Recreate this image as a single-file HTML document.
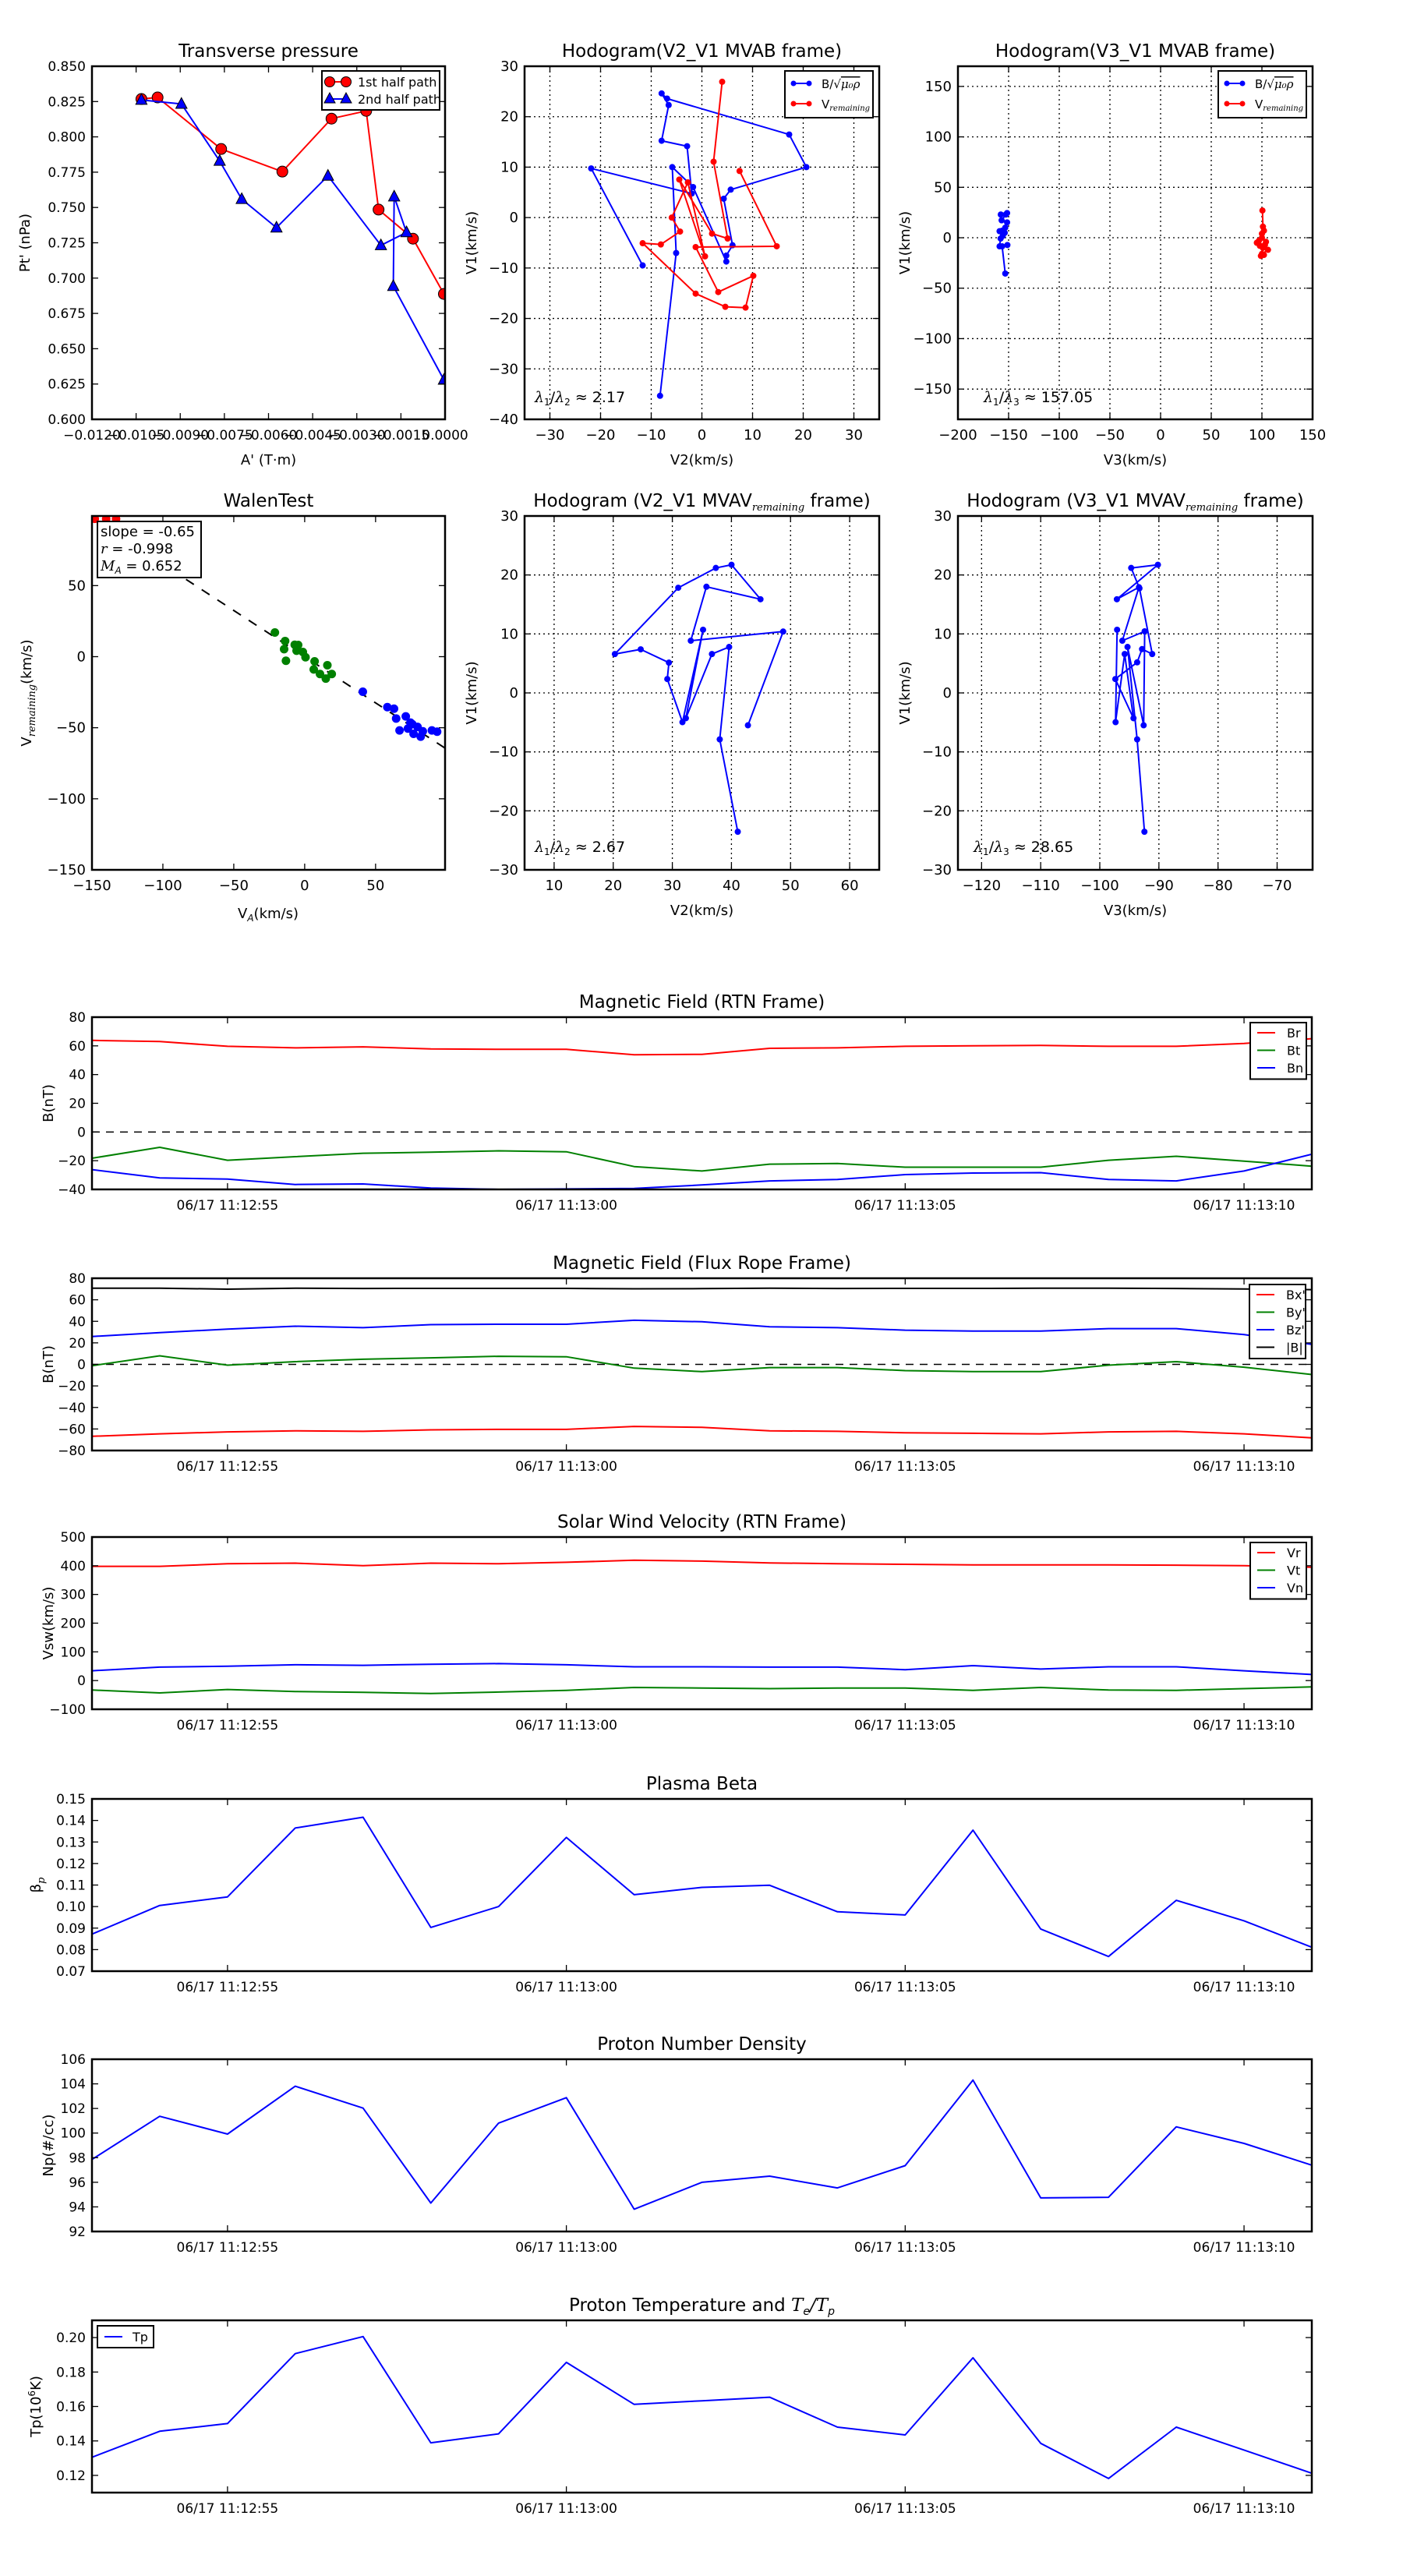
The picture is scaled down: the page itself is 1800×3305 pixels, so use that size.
<!DOCTYPE html>
<html><head><meta charset="utf-8">
<style>
html,body{margin:0;padding:0;background:#fff;}
svg text{font-family:"DejaVu Sans","Liberation Sans",sans-serif;fill:#000;}
</style></head>
<body>
<svg id="fig" xmlns="http://www.w3.org/2000/svg" width="1800" height="3300" viewBox="0 0 1800 3300">
<rect x="0" y="0" width="1800" height="3300" fill="#fff"/>
</svg>
<script>
// ---------- data ----------
const presAx1 = [-0.01032,-0.00977,-0.00761,-0.00553,-0.00386,-0.00268,-0.00226,-0.00109,-0.00004];
const presPt1 = [0.8268,0.8279,0.7914,0.7754,0.8129,0.8184,0.7485,0.7279,0.6888];
const presAx2 = [-0.01032,-0.00896,-0.00766,-0.00691,-0.00573,-0.00398,-0.00218,-0.00131,-0.00173,-0.00176,-0.00004];
const presPt2 = [0.8261,0.8233,0.7829,0.7559,0.7357,0.7724,0.7232,0.7324,0.7577,0.6943,0.6279];

const hB_V2 = [-11.69,-21.85,-2.0,-2.92,-7.95,-6.56,-7.95,-6.87,17.23,20.62,5.69,4.31,6.05,4.82,4.82,-1.74,-5.85,-5.08,-8.26];
const hB_V1 = [-9.49,9.74,4.77,14.15,15.23,22.31,24.62,23.59,16.46,10.0,5.54,3.74,-5.49,-7.54,-8.72,6.05,10.0,-7.03,-35.33];
const hV_V2 = [7.44,14.77,-1.23,3.23,10.15,8.62,4.62,-1.23,-11.69,-8.10,-4.31,-5.95,-2.77,0.62,-4.46,2.0,5.08,2.31,4.0];
const hV_V1 = [9.23,-5.69,-5.85,-14.77,-11.54,-17.85,-17.69,-15.08,-5.08,-5.33,-2.77,0,6.97,-7.69,7.54,-3.18,-4.15,11.08,26.92];

const h3B_V3 = [-157.7,-151.5,-152.8,-156.9,-151.5,-153.3,-156.4,-158.9,-153.8,-155.8,-157.9,-158.9,-151.2,-156.4,-153.3];
const h3B_V1 = [23,24.5,23,17.3,15.2,10,7,6.5,4.9,1.9,-0.8,-8.5,-7.2,-8.5,-35.5];
const h3V_V3 = [100.5,101,102,100,97,95,103,101,106,100,99,102,98,104,100];
const h3V_V1 = [27,11,7,4,-3,-5,-7,-10,-12,-16,-18,-17,-8,-4,0];

const walenGreenX = [-21,-13.8,-14.5,-13.2,-7,-4.6,-5.7,-1.3,0.6,7,6.4,10.8,16,14.9,19.1];
const walenGreenY = [17,11,5.3,-2.9,8.4,8.2,4.2,3.3,-0.4,-3.3,-9,-12.2,-6,-15.4,-12.2];
const walenBlueX = [41,58.3,63,64.5,71.3,66.9,72.8,75.9,79.6,76.8,81.8,83.3,89.7,93.4,74.6];
const walenBlueY = [-24.7,-35.5,-36.6,-43.5,-42,-51.9,-50.6,-47.5,-49.4,-54.3,-56.3,-52.5,-51.9,-52.8,-46.4];
const walenRedX = [-148,-140,-133];
const walenRedY = [97,97,97];
const walenSlope = -0.65;

const h4_V2 = [42.79,48.75,33.12,35.77,44.91,40.01,37.36,31.0,20.28,24.65,29.42,29.15,31.71,35.2,32.29,36.7,39.61,38.02,41.07];
const h4_V1 = [-5.49,10.4,8.85,18.0,15.88,21.73,21.19,17.83,6.59,7.39,5.13,2.35,-4.96,10.71,-4.29,6.59,7.79,-7.88,-23.54];
const h5_V3 = [-97.07,-97.33,-95.79,-94.30,-97.37,-93.68,-92.85,-91.13,-93.29,-94.69,-90.17,-97.11,-93.37,-96.19,-92.41,-92.58,-95.31,-93.68,-92.45];
const h5_V1 = [10.71,-4.96,6.59,-4.29,2.35,5.18,7.43,6.59,17.74,21.19,21.73,15.88,17.92,8.85,10.44,-5.49,7.79,-7.88,-23.54];

const timeTickIdx = [2,7,12,17];
const timeTickLabels = ['06/17 11:12:55','06/17 11:13:00','06/17 11:13:05','06/17 11:13:10'];

const Br = [63.8,63,59.7,58.6,59.3,57.9,57.6,57.6,53.8,54.1,58.3,58.6,59.7,60,60.3,59.7,59.7,61.7,65];
const Bt = [-18.3,-10.7,-19.7,-17.2,-14.8,-14.1,-13.1,-13.8,-24.1,-27.2,-22.4,-22,-24.5,-24.5,-24.5,-19.7,-16.9,-20.3,-23.8];
const Bn = [-26.2,-32,-32.8,-36.6,-36.2,-39,-40,-39.7,-39.3,-36.9,-34.1,-33.1,-29.7,-28.6,-28.3,-33.1,-34.1,-27.2,-15.5];

const Bx_ = [-66.8,-64.5,-62.7,-61.7,-62.2,-60.8,-60.4,-60.4,-57.6,-58.5,-61.7,-62.2,-63.6,-64,-64.5,-62.7,-62.2,-64.5,-68.2];
const By_ = [-1.2,8,-0.7,2.5,4.8,6.1,7.5,7.1,-3.5,-6.7,-3,-3,-5.8,-6.7,-6.7,-0.7,2.5,-2.6,-9.4];
const Bz_ = [25.9,29.5,32.8,35.5,34.1,36.9,37.3,37.3,41,39.6,35,34.1,31.8,30.9,30.9,33.2,33.2,27.7,18.5];
const Bmag = [70.8,70.8,69.9,70.8,70.5,70.6,70.6,70.6,70.2,70.4,70.7,70.5,70.6,70.6,70.7,70.7,70.5,70.1,69.4];

const Vr = [398,398,407,409,400,409,407,412,419,416,410,407,405,403,403,403,402,400,395];
const Vt = [-33,-43,-31,-38,-41,-45,-40,-34,-24,-26,-28,-26,-26,-34,-24,-33,-34,-28,-22];
const Vn = [34,47,50,55,53,57,59,55,48,48,47,47,38,52,40,48,48,34,21];

const beta = [0.0872,0.1005,0.1045,0.1365,0.1415,0.0903,0.1,0.1321,0.1055,0.1089,0.1099,0.0976,0.0961,0.1355,0.0896,0.0768,0.1029,0.0934,0.0811];
const Np = [97.86,101.36,99.92,103.81,102.03,94.31,100.81,102.88,93.81,96.0,96.5,95.54,97.35,104.31,94.73,94.78,100.51,99.16,97.39];
const Tp = [0.1305,0.1456,0.1501,0.1907,0.2006,0.1389,0.1441,0.1856,0.1612,0.1633,0.1654,0.148,0.1435,0.1883,0.1386,0.1182,0.148,0.1347,0.1212];

// ---------- helpers ----------
const NS='http://www.w3.org/2000/svg';
const svg=document.getElementById('fig');
let clipN=0;
function E(tag,attrs,parent){const e=document.createElementNS(NS,tag);for(const k in attrs)e.setAttribute(k,attrs[k]);(parent||svg).appendChild(e);return e;}
function T(txt,attrs,parent){const e=E('text',attrs,parent);e.textContent=txt;return e;}
function fmt(v,d){const s=Math.abs(v).toFixed(d);return (v<0?'\u2212':'')+s;}
function range(a,b,s){const r=[];for(let v=a;v<=b+1e-9;v+=s)r.push(Math.round(v*1e6)/1e6);return r;}

function makeAxes(name,o){
  const g=E('g',{});
  
  
  const sx=v=>o.x+(v-o.xl[0])/(o.xl[1]-o.xl[0])*o.w;
  const sy=v=>o.y+o.h-(v-o.yl[0])/(o.yl[1]-o.yl[0])*o.h;
  const id='c'+(clipN++);
  const cp=E('clipPath',{id:id},g);E('rect',{x:o.x,y:o.y,width:o.w,height:o.h},cp);
  const grid=E('g',{},g);
  const data=E('g',{'clip-path':'url(#'+id+')'},g);
  const frame=E('g',{},g);
  // ticks
  const tl=8;
  o.xt.forEach((v,i)=>{
    const X=sx(v); if(X<o.x-0.5||X>o.x+o.w+0.5) return;
    if(o.grid) E('line',{x1:X,y1:o.y,x2:X,y2:o.y+o.h,stroke:'#000','stroke-width':1.3,'stroke-dasharray':'2,4'},grid);
    E('line',{x1:X,y1:o.y+o.h,x2:X,y2:o.y+o.h-tl,stroke:'#000','stroke-width':1.3},frame);
    E('line',{x1:X,y1:o.y,x2:X,y2:o.y+tl,stroke:'#000','stroke-width':1.3},frame);
    const lab=o.xlab?o.xlab[i]:fmt(v,o.xd||0);
    const t=T(lab,{x:X,y:o.y+o.h+26,'text-anchor':'middle','font-size':o.tfs||18},frame);
    
    
  });
  o.yt.forEach((v,i)=>{
    const Y=sy(v); if(Y<o.y-0.5||Y>o.y+o.h+0.5) return;
    if(o.grid) E('line',{x1:o.x,y1:Y,x2:o.x+o.w,y2:Y,stroke:'#000','stroke-width':1.3,'stroke-dasharray':'2,4'},grid);
    E('line',{x1:o.x,y1:Y,x2:o.x+tl,y2:Y,stroke:'#000','stroke-width':1.3},frame);
    E('line',{x1:o.x+o.w,y1:Y,x2:o.x+o.w-tl,y2:Y,stroke:'#000','stroke-width':1.3},frame);
    const lab=o.ylab?o.ylab[i]:fmt(v,o.yd||0);
    const t=T(lab,{x:o.x-8,y:Y+6,'text-anchor':'end','font-size':o.tfs||18},frame);
    
    
  });
  E('rect',{x:o.x,y:o.y,width:o.w,height:o.h,fill:'none',stroke:'#000','stroke-width':2.5},frame);
  if(o.title){const t=T('',{x:o.x+o.w/2,y:o.y-12,'text-anchor':'middle','font-size':23},frame);
    if(typeof o.title==='string') t.textContent=o.title; else o.title(t);
    
    }
  if(o.xname){const t=T(o.xname,{x:o.x+o.w/2,y:o.y+o.h+58,'text-anchor':'middle','font-size':18},frame);
    
    }
  if(o.yname){const yx=o.x-o.ynoff;const yy=o.y+o.h/2;
    const t=T('',{x:yx,y:yy,'text-anchor':'middle','font-size':18,transform:'rotate(-90 '+yx+' '+yy+')'},frame);
    if(typeof o.yname==='string') t.textContent=o.yname; else o.yname(t);
    
    }
  return {sx,sy,data,frame,o};
}
function polyline(ax,xs,ys,color,w,name){
  const pts=xs.map((v,i)=>ax.sx(v).toFixed(1)+','+ax.sy(ys[i]).toFixed(1)).join(' ');
  const p=E('polyline',{points:pts,fill:'none',stroke:color,'stroke-width':w||2,'stroke-linejoin':'round'},ax.data);
  
  
  return p;
}
function dots(ax,xs,ys,color,r,name,stroke){
  xs.forEach((v,i)=>{
    const c=E('circle',{cx:ax.sx(v),cy:ax.sy(ys[i]),r:r,fill:color,stroke:stroke||'none','stroke-width':1},ax.data);
    
    
  });
}
function tris(ax,xs,ys,color,s,name){
  xs.forEach((v,i)=>{
    const X=ax.sx(v),Y=ax.sy(ys[i]);
    const p=E('polygon',{points:`${X},${Y-s} ${X-s*0.9},${Y+s*0.7} ${X+s*0.9},${Y+s*0.7}`,fill:color,stroke:'#000','stroke-width':1},ax.data);
    
    
  });
}
function sub(t,main,subs,italic){const a=E('tspan',{},t);a.textContent=main;const b=E('tspan',{'font-size':13,dy:5,'font-style':italic?'italic':'normal','font-family':'"DejaVu Serif",serif'},t);b.textContent=subs;const c=E('tspan',{dy:-5},t);c.textContent='';return t;}

// ---------- row 1 ----------
const pAx=makeAxes('transverse-pressure-chart',{x:118,y:85,w:453,h:453,xl:[-0.012,0],yl:[0.6,0.85],
  xt:range(-0.012,0,0.0015),xd:4,yt:range(0.6,0.85,0.025),yd:3,tfs:17,title:'Transverse pressure',xname:"A' (T\u00b7m)",yname:"Pt' (nPa)",ynoff:80});
polyline(pAx,presAx1,presPt1,'#ff0000',2,'first-half-path-line');
dots(pAx,presAx1,presPt1,'#ff0000',7,'first-half-path-marker','#000');
polyline(pAx,presAx2,presPt2,'#0000ff',2,'second-half-path-line');
tris(pAx,presAx2,presPt2,'#0000ff',8,'second-half-path-marker');
(function(){const g=E('g',{},pAx.frame);
E('rect',{x:413,y:91,width:151,height:50,fill:'#fff',stroke:'#000','stroke-width':2},g);
E('line',{x1:423,y1:105,x2:444,y2:105,stroke:'#f00','stroke-width':2},g);
E('circle',{cx:423,cy:105,r:6.5,fill:'#f00',stroke:'#000'},g);E('circle',{cx:444,cy:105,r:6.5,fill:'#f00',stroke:'#000'},g);
T('1st half path',{x:459,y:111,'font-size':16},g);
E('line',{x1:423,y1:127,x2:444,y2:127,stroke:'#00f','stroke-width':2},g);
[423,444].forEach(X=>E('polygon',{points:`${X},${119} ${X-7},${132} ${X+7},${132}`,fill:'#00f',stroke:'#000'},g));
T('2nd half path',{x:459,y:133,'font-size':16},g);})();

function hodoLegend(ax,x,y,lab2){
  const g=E('g',{},ax.frame);
  
  
  E('rect',{x:x,y:y,width:113,height:60,fill:'#fff',stroke:'#000','stroke-width':2},g);
  [[y+16,'#0000ff'],[y+42,'#ff0000']].forEach(([yy,c])=>{E('line',{x1:x+11,y1:yy,x2:x+31,y2:yy,stroke:c,'stroke-width':2},g);
    E('circle',{cx:x+11,cy:yy,r:3.5,fill:c},g);E('circle',{cx:x+31,cy:yy,r:3.5,fill:c},g);});
  const t1=T('B/\u221a',{x:x+47,y:y+22,'font-size':15},g);const s=E('tspan',{'font-style':'italic','text-decoration':'overline','font-family':'"DejaVu Serif",serif'},t1);s.textContent='\u03bc\u2080\u03c1';
  const t2=T('V',{x:x+47,y:y+48,'font-size':15},g);const s2=E('tspan',{'font-size':10,dy:3,'font-style':'italic','font-family':'"DejaVu Serif",serif'},t2);s2.textContent='remaining';
}
function lamText(ax,x,y,a,b,val){
  const t=T('',{x:x,y:y,'font-size':19},ax.frame);
  
  
  const p=(s,at)=>{const e=E('tspan',at||{},t);e.textContent=s;};
  p('\u03bb',{'font-style':'italic','font-family':'"DejaVu Serif",serif'});p(a,{'font-size':12,dy:4});p('/',{dy:-4});
  p('\u03bb',{'font-style':'italic','font-family':'"DejaVu Serif",serif'});p(b,{'font-size':12,dy:4});p(' \u2248 '+val,{dy:-4});
}

const h2=makeAxes('hodogram-v2-v1-mvab-chart',{x:673,y:85,w:455,h:453,xl:[-35,35],yl:[-40,30],xt:range(-30,30,10),yt:range(-40,30,10),grid:true,
  title:'Hodogram(V2_V1 MVAB frame)',xname:'V2(km/s)',yname:'V1(km/s)',ynoff:62});
polyline(h2,hB_V2,hB_V1,'#0000ff',2,'b-field-hodogram-line');dots(h2,hB_V2,hB_V1,'#0000ff',4,'b-field-point');
polyline(h2,hV_V2,hV_V1,'#ff0000',2,'velocity-hodogram-line');dots(h2,hV_V2,hV_V1,'#ff0000',4,'velocity-point');
hodoLegend(h2,1007,91);lamText(h2,686,516,'1','2','2.17');

const h3=makeAxes('hodogram-v3-v1-mvab-chart',{x:1229,y:85,w:455,h:453,xl:[-200,150],yl:[-180,170],xt:range(-200,150,50),yt:range(-150,150,50),grid:true,
  title:'Hodogram(V3_V1 MVAB frame)',xname:'V3(km/s)',yname:'V1(km/s)',ynoff:62});
polyline(h3,h3B_V3,h3B_V1,'#0000ff',2,'b-field-hodogram-line');dots(h3,h3B_V3,h3B_V1,'#0000ff',4,'b-field-point');
polyline(h3,h3V_V3,h3V_V1,'#ff0000',2,'velocity-hodogram-line');dots(h3,h3V_V3,h3V_V1,'#ff0000',4,'velocity-point');
hodoLegend(h3,1563,91);lamText(h3,1262,516,'1','3','157.05');

// ---------- row 2 ----------
const wAx=makeAxes('walen-test-chart',{x:118,y:662,w:453,h:454,xl:[-150,99],yl:[-150,99],xt:range(-150,50,50),yt:range(-150,50,50),
  title:'WalenTest',xname:'',yname:t=>{sub(t,'V','remaining',true);const e=E('tspan',{dy:-5},t);e.textContent='(km/s)';},ynoff:78});
(function(){const x1=-150,x2=99;const l=E('line',{x1:wAx.sx(x1),y1:wAx.sy(walenSlope*x1),x2:wAx.sx(x2),y2:wAx.sy(walenSlope*x2),stroke:'#000','stroke-width':2,'stroke-dasharray':'12,12'},wAx.data);
})();
dots(wAx,walenGreenX,walenGreenY,'#008000',5.5,'walen-point-green');
dots(wAx,walenBlueX,walenBlueY,'#0000ff',5.5,'walen-point-blue');
dots(wAx,walenRedX,walenRedY,'#ff0000',5.5,'walen-point-red');
(function(){const tx=T('V',{x:344,y:1178,'text-anchor':'middle','font-size':18},wAx.frame);const s=E('tspan',{'font-size':12,dy:4,'font-style':'italic'},tx);s.textContent='A';const s2=E('tspan',{dy:-4},tx);s2.textContent='(km/s)';

const g=E('g',{},wAx.frame);
E('rect',{x:125,y:669,width:133,height:72,fill:'#fff',stroke:'#000','stroke-width':2},g);
T('slope = -0.65',{x:129,y:688,'font-size':18},g);
const r=T('',{x:129,y:710,'font-size':18},g);const ri=E('tspan',{'font-style':'italic','font-family':'"DejaVu Serif",serif'},r);ri.textContent='r';const rr=E('tspan',{},r);rr.textContent=' = -0.998';
const m=T('',{x:129,y:732,'font-size':18},g);const mi=E('tspan',{'font-style':'italic','font-family':'"DejaVu Serif",serif'},m);mi.textContent='M';const ms=E('tspan',{'font-size':12,dy:4,'font-style':'italic'},m);ms.textContent='A';const mr=E('tspan',{dy:-4},m);mr.textContent=' = 0.652';})();

const h4=makeAxes('hodogram-v2-v1-mvav-chart',{x:673,y:662,w:455,h:454,xl:[5,65],yl:[-30,30],xt:range(10,60,10),yt:range(-30,30,10),grid:true,
  title:t=>{sub(t,'Hodogram (V2_V1 MVAV','remaining',true);const e=E('tspan',{dy:-5},t);e.textContent=' frame)';},xname:'V2(km/s)',yname:'V1(km/s)',ynoff:62});
polyline(h4,h4_V2,h4_V1,'#0000ff',2,'velocity-hodogram-line');dots(h4,h4_V2,h4_V1,'#0000ff',4,'velocity-point');
lamText(h4,686,1093,'1','2','2.67');

const h5=makeAxes('hodogram-v3-v1-mvav-chart',{x:1229,y:662,w:455,h:454,xl:[-124,-64],yl:[-30,30],xt:range(-120,-70,10),yt:range(-30,30,10),grid:true,
  title:t=>{sub(t,'Hodogram (V3_V1 MVAV','remaining',true);const e=E('tspan',{dy:-5},t);e.textContent=' frame)';},xname:'V3(km/s)',yname:'V1(km/s)',ynoff:62});
polyline(h5,h5_V3,h5_V1,'#0000ff',2,'velocity-hodogram-line');dots(h5,h5_V3,h5_V1,'#0000ff',4,'velocity-point');
lamText(h5,1249,1093,'1','3','28.65');

// ---------- time series ----------
const idx=Br.map((_,i)=>i);
function tsAxes(name,y,yl,yt,yd,title,yname){
  return makeAxes(name,{x:118,y:y,w:1565,h:221,xl:[0,18],yl:yl,xt:timeTickIdx,xlab:timeTickLabels,yt:yt,yd:yd,tfs:17,title:title,yname:yname,ynoff:yd>0?66:50});
}
function tsLegend(ax,x,y,items){
  const g=E('g',{},ax.frame);
  
  
  E('rect',{x:x,y:y,width:72,height:items.length*22.5+5,fill:'#fff',stroke:'#000','stroke-width':2},g);
  items.forEach(([lab,c],i)=>{const yy=y+13+i*22.5;E('line',{x1:x+9,y1:yy,x2:x+32,y2:yy,stroke:c,'stroke-width':2},g);
    const t=T(lab,{x:x+47,y:yy+6,'font-size':16},g);
    
    });
}
function zeroLine(ax){const l=E('line',{x1:ax.o.x,y1:ax.sy(0),x2:ax.o.x+ax.o.w,y2:ax.sy(0),stroke:'#000','stroke-width':1.5,'stroke-dasharray':'10,8'},ax.data);
  }

const t1=tsAxes('magnetic-field-rtn-chart',1305,[-40,80],range(-40,80,20),0,'Magnetic Field (RTN Frame)','B(nT)');
zeroLine(t1);
polyline(t1,idx,Br,'#ff0000',2,'br-line');polyline(t1,idx,Bt,'#008000',2,'bt-line');polyline(t1,idx,Bn,'#0000ff',2,'bn-line');
tsLegend(t1,1604,1312,[['Br','#ff0000'],['Bt','#008000'],['Bn','#0000ff']]);

const t2=tsAxes('magnetic-field-flux-rope-chart',1640,[-80,80],range(-80,80,20),0,'Magnetic Field (Flux Rope Frame)','B(nT)');
zeroLine(t2);
polyline(t2,idx,Bx_,'#ff0000',2,'bx-line');polyline(t2,idx,By_,'#008000',2,'by-line');polyline(t2,idx,Bz_,'#0000ff',2,'bz-line');polyline(t2,idx,Bmag,'#000000',2,'b-magnitude-line');
tsLegend(t2,1603,1648,[["Bx'",'#ff0000'],["By'",'#008000'],["Bz'",'#0000ff'],['|B|','#000000']]);

const t3=tsAxes('solar-wind-velocity-chart',1972,[-100,500],range(-100,500,100),0,'Solar Wind Velocity (RTN Frame)','Vsw(km/s)');
polyline(t3,idx,Vr,'#ff0000',2,'vr-line');polyline(t3,idx,Vt,'#008000',2,'vt-line');polyline(t3,idx,Vn,'#0000ff',2,'vn-line');
tsLegend(t3,1604,1979,[['Vr','#ff0000'],['Vt','#008000'],['Vn','#0000ff']]);

const t4=tsAxes('plasma-beta-chart',2308,[0.07,0.15],range(0.07,0.15,0.01),2,'Plasma Beta',t=>{sub(t,'\u03b2','p',true);});
polyline(t4,idx,beta,'#0000ff',2,'beta-line');

const t5=tsAxes('proton-density-chart',2642,[92,106],range(92,106,2),0,'Proton Number Density','Np(#/cc)');
polyline(t5,idx,Np,'#0000ff',2,'density-line');

const t6=tsAxes('proton-temperature-chart',2977,[0.11,0.21],range(0.12,0.20,0.02),2,
  t=>{const a=E('tspan',{},t);a.textContent='Proton Temperature and ';const b=E('tspan',{'font-style':'italic','font-family':'"DejaVu Serif",serif'},t);b.textContent='T';
    const c=E('tspan',{'font-size':14,dy:5,'font-style':'italic'},t);c.textContent='e';const d=E('tspan',{dy:-5,'font-style':'italic','font-family':'"DejaVu Serif",serif'},t);d.textContent='/T';
    const f=E('tspan',{'font-size':14,dy:5,'font-style':'italic'},t);f.textContent='p';},
  t=>{const a=E('tspan',{},t);a.textContent='Tp(10';const b=E('tspan',{'font-size':12,dy:-7},t);b.textContent='6';const c=E('tspan',{dy:7},t);c.textContent='K)';});
polyline(t6,idx,Tp,'#0000ff',2,'temperature-line');
(function(){const g=E('g',{},t6.frame);
E('rect',{x:125,y:2984,width:72,height:28,fill:'#fff',stroke:'#000','stroke-width':2},g);
E('line',{x1:134,y1:2998,x2:157,y2:2998,stroke:'#00f','stroke-width':2},g);
const t=T('Tp',{x:170,y:3004,'font-size':16},g);})();
</script>
</body></html>
